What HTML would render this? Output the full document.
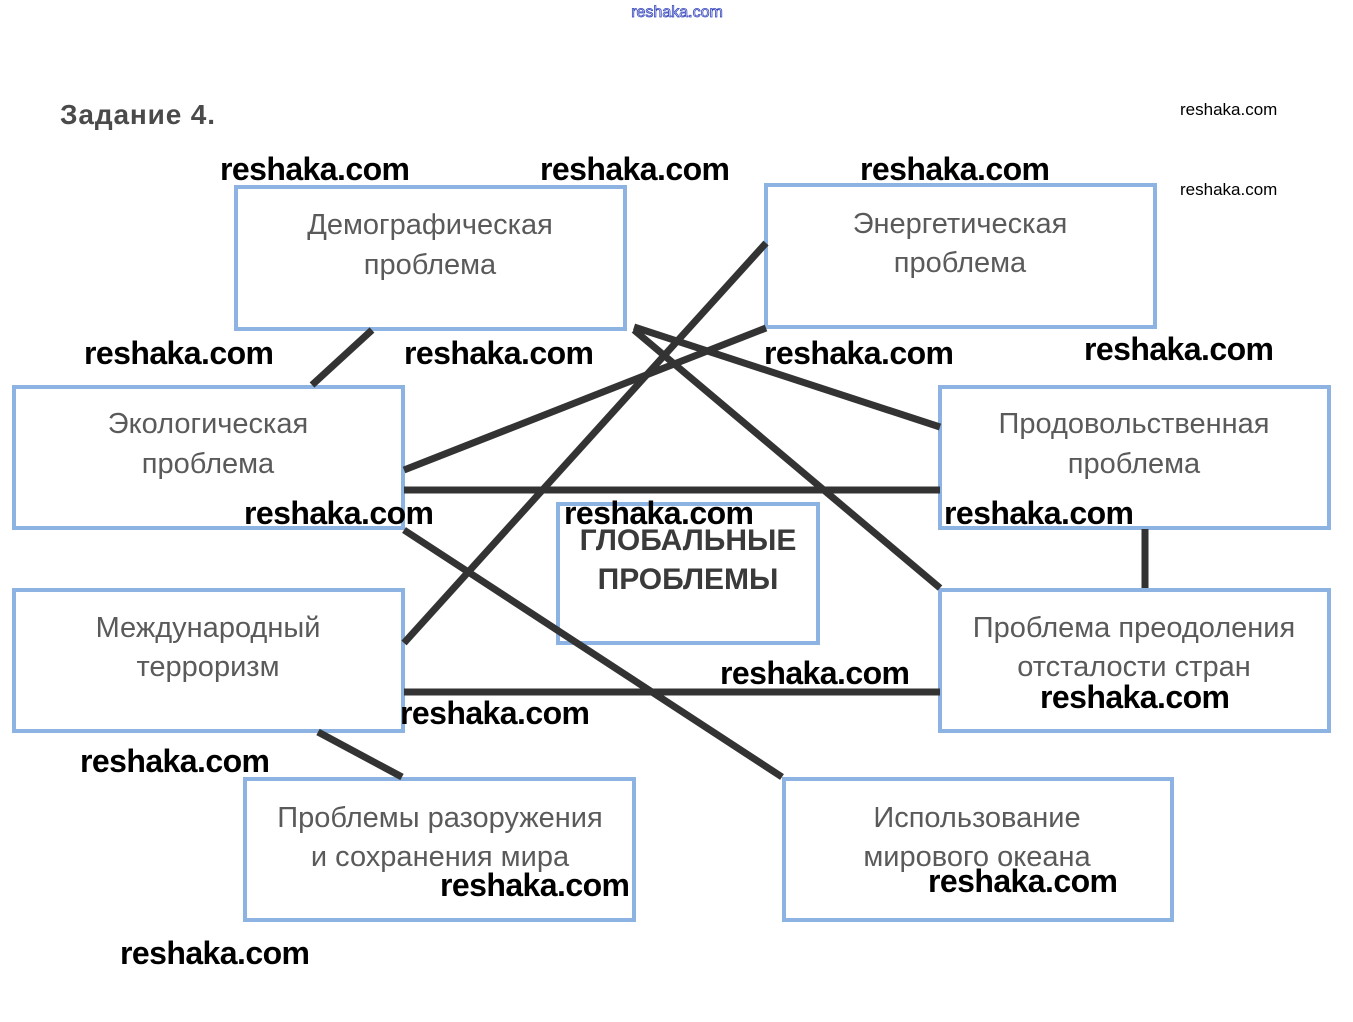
<!DOCTYPE html>
<html><head><meta charset="utf-8"><style>
html,body{margin:0;padding:0;background:#fff;}
svg{display:block;}
.b{fill:#fff;stroke:#8db3e2;stroke-width:4;}
.t{font-family:"Liberation Sans",sans-serif;font-size:29px;fill:#5a5a5a;text-anchor:middle;}
.g{font-family:"Liberation Sans",sans-serif;font-size:30px;font-weight:bold;fill:#3a3a3a;text-anchor:middle;}
.l{stroke:#333;stroke-width:7;}
.w{font-family:"Liberation Sans",sans-serif;font-size:32px;font-weight:bold;fill:#000;}
.s{font-family:"Liberation Sans",sans-serif;font-size:17px;fill:#000;}
</style></head><body>
<svg width="1353" height="1022" viewBox="0 0 1353 1022" xmlns="http://www.w3.org/2000/svg">
<text x="677" y="17" font-family="Liberation Sans,sans-serif" font-size="16" fill="#fff" stroke="#3344bb" stroke-width="0.8" text-anchor="middle">reshaka.com</text>
<text x="60" y="124" font-family="Liberation Sans,sans-serif" font-size="28" font-weight="bold" fill="#4a4a4a" textLength="155">Задание 4.</text>
<text class="s" x="1180" y="115">reshaka.com</text>
<text class="s" x="1180" y="195">reshaka.com</text>

<rect class="b" x="236" y="187" width="389" height="142"/>
<rect class="b" x="766" y="185" width="389" height="142"/>
<rect class="b" x="14" y="387" width="389" height="141"/>
<rect class="b" x="940" y="387" width="389" height="141"/>
<rect class="b" x="558" y="504" width="260" height="139"/>
<rect class="b" x="14" y="590" width="389" height="141"/>
<rect class="b" x="940" y="590" width="389" height="141"/>
<rect class="b" x="245" y="779" width="389" height="141"/>
<rect class="b" x="784" y="779" width="388" height="141"/>

<text class="t" x="430" y="234">Демографическая</text>
<text class="t" x="430" y="274">проблема</text>
<text class="t" x="960" y="233">Энергетическая</text>
<text class="t" x="960" y="272">проблема</text>
<text class="t" x="208" y="433">Экологическая</text>
<text class="t" x="208" y="473">проблема</text>
<text class="t" x="1134" y="433">Продовольственная</text>
<text class="t" x="1134" y="473">проблема</text>
<text class="g" x="688" y="550">ГЛОБАЛЬНЫЕ</text>
<text class="g" x="688" y="589">ПРОБЛЕМЫ</text>
<text class="t" x="208" y="637">Международный</text>
<text class="t" x="208" y="676">терроризм</text>
<text class="t" x="1134" y="637">Проблема преодоления</text>
<text class="t" x="1134" y="676">отсталости стран</text>
<text class="t" x="440" y="827">Проблемы разоружения</text>
<text class="t" x="440" y="866">и сохранения мира</text>
<text class="t" x="977" y="827">Использование</text>
<text class="t" x="977" y="866">мирового океана</text>

<line class="l" x1="372" y1="330" x2="312" y2="385"/>
<line class="l" x1="766" y1="243" x2="404" y2="643"/>
<line class="l" x1="766" y1="328" x2="404" y2="470"/>
<line class="l" x1="634" y1="327" x2="940" y2="427"/>
<line class="l" x1="634" y1="330" x2="940" y2="588"/>
<line class="l" x1="404" y1="490" x2="940" y2="490"/>
<line class="l" x1="404" y1="530" x2="782" y2="777"/>
<line class="l" x1="1145" y1="529" x2="1145" y2="588"/>
<line class="l" x1="404" y1="692" x2="940" y2="692"/>
<line class="l" x1="318" y1="732" x2="402" y2="777"/>

<g class="w">
<text x="220" y="180" textLength="190">reshaka.com</text>
<text x="540" y="180" textLength="190">reshaka.com</text>
<text x="860" y="180" textLength="190">reshaka.com</text>
<text x="84" y="364" textLength="190">reshaka.com</text>
<text x="404" y="364" textLength="190">reshaka.com</text>
<text x="764" y="364" textLength="190">reshaka.com</text>
<text x="1084" y="360" textLength="190">reshaka.com</text>
<text x="244" y="524" textLength="190">reshaka.com</text>
<text x="564" y="524" textLength="190">reshaka.com</text>
<text x="944" y="524" textLength="190">reshaka.com</text>
<text x="720" y="684" textLength="190">reshaka.com</text>
<text x="1040" y="708" textLength="190">reshaka.com</text>
<text x="400" y="724" textLength="190">reshaka.com</text>
<text x="80" y="772" textLength="190">reshaka.com</text>
<text x="440" y="896" textLength="190">reshaka.com</text>
<text x="928" y="892" textLength="190">reshaka.com</text>
<text x="120" y="964" textLength="190">reshaka.com</text>
</g>
</svg>
</body></html>
